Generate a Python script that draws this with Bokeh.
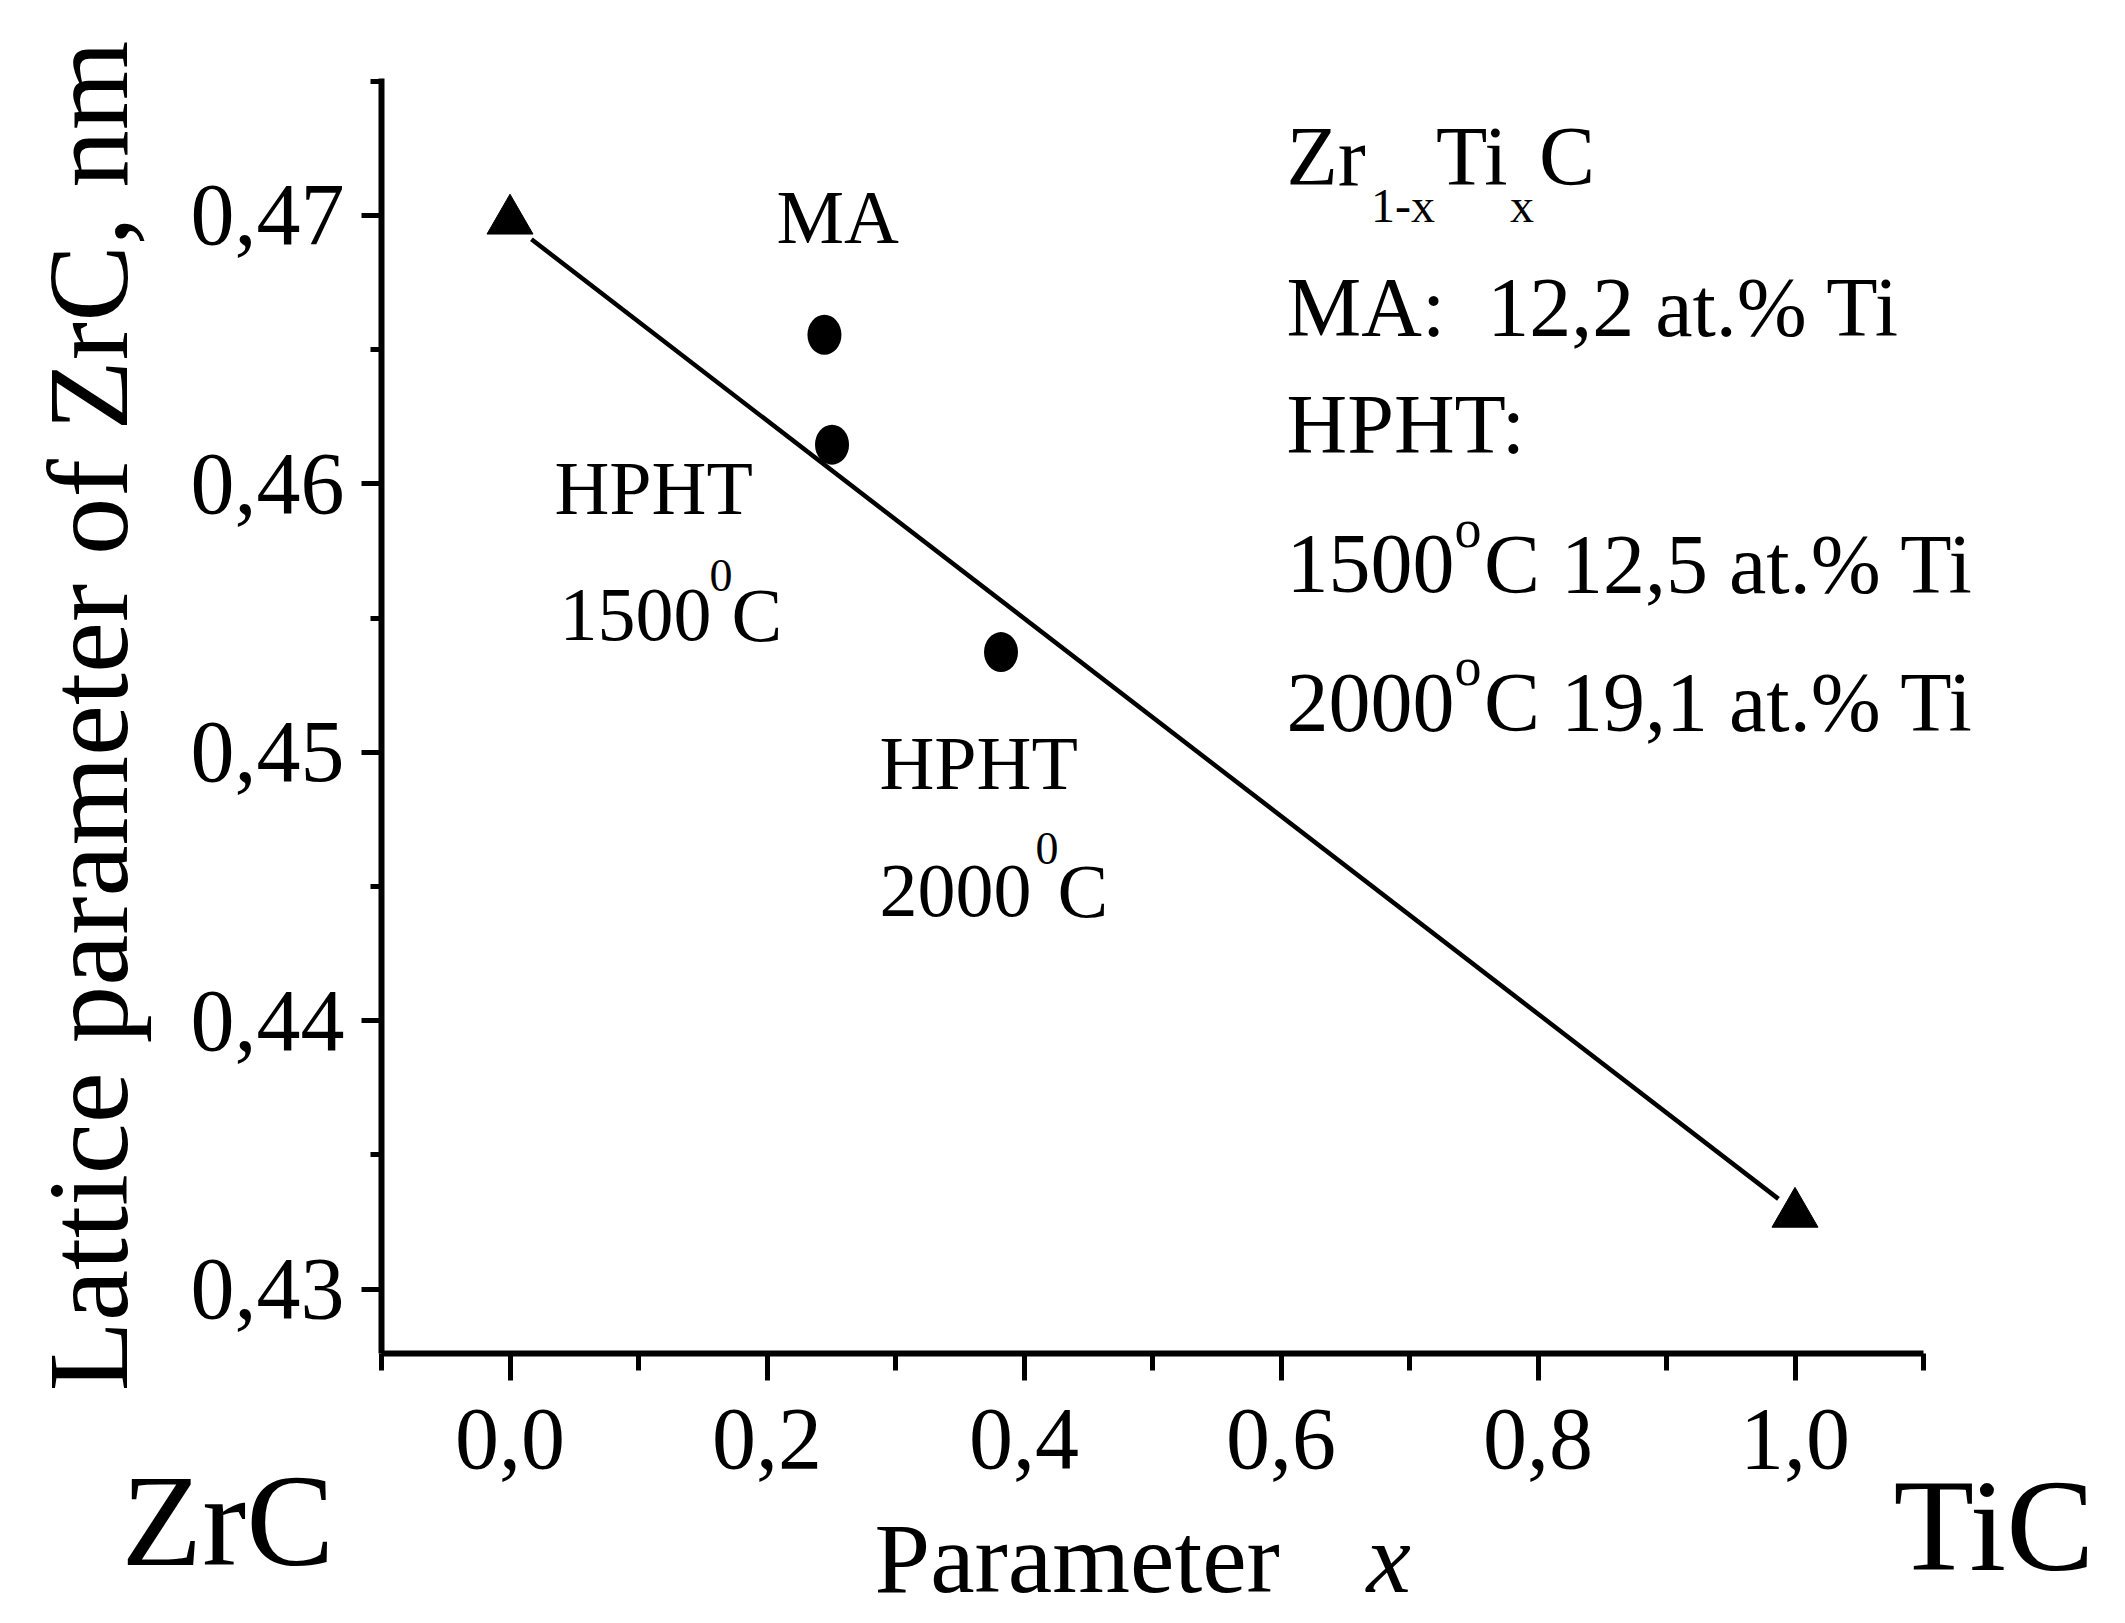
from bokeh.plotting import figure
from bokeh.models import Range1d, FixedTicker, CustomJSTickFormatter, Label, LinearAxis
from bokeh.embed import file_html
from bokeh.resources import INLINE

FONT = "Liberation Serif"

# ---- data ----
end_names = ["ZrC", "TiC"]
end_x = [0.0, 1.0]
end_y = [0.4698, 0.4328]

sample_names = ["MA", "HPHT 1500", "HPHT 2000"]
sample_x = [0.2447, 0.2506, 0.3821]
sample_y = [0.46555, 0.46146, 0.45373]

fit_x = [0.0167, 0.9871]
fit_y = [0.46911, 0.43336]

x_major = [0.0, 0.2, 0.4, 0.6, 0.8, 1.0]
x_minor = [-0.1, 0.1, 0.3, 0.5, 0.7, 0.9, 1.1]
y_major = [0.43, 0.44, 0.45, 0.46, 0.47]
y_minor = [0.435, 0.445, 0.455, 0.465, 0.475]
x_bounds = (-0.1, 1.1)
y_bounds = (0.4276, 0.4751)

W, H = 2117, 1615
p = figure(width=W, height=H, output_backend="svg", toolbar_location=None,
           x_range=Range1d(-0.39650, 1.25097), y_range=Range1d(0.417839, 0.478006),
           x_axis_location=None, y_axis_location=None,
           min_border=0, min_border_left=0, min_border_right=0,
           min_border_top=0, min_border_bottom=0)
p.outline_line_color = None
p.background_fill_color = "white"
p.border_fill_color = "white"
p.grid.visible = False

xaxis = LinearAxis(fixed_location=y_bounds[0], bounds=x_bounds,
                   ticker=FixedTicker(ticks=x_major, minor_ticks=x_minor),
                   formatter=CustomJSTickFormatter(code="return tick.toFixed(1).replace('.', ',')"))
yaxis = LinearAxis(fixed_location=x_bounds[0], bounds=y_bounds,
                   ticker=FixedTicker(ticks=y_major, minor_ticks=y_minor),
                   formatter=CustomJSTickFormatter(code="return tick.toFixed(2).replace('.', ',')"))

for ax in (xaxis, yaxis):
    ax.axis_line_width = 6
    ax.axis_line_color = "black"
    ax.major_tick_line_width = 5
    ax.minor_tick_line_width = 5
    ax.major_tick_line_color = "black"
    ax.minor_tick_line_color = "black"
    ax.major_tick_in = 0
    ax.minor_tick_in = 0
    ax.major_label_text_font = FONT
    ax.major_label_text_font_size = "88px"
    ax.major_label_text_color = "black"

xaxis.major_tick_out = 27
xaxis.minor_tick_out = 17
yaxis.major_tick_out = 20
yaxis.minor_tick_out = 11
xaxis.major_label_standoff = 30
yaxis.major_label_standoff = 17

yaxis.axis_label = "Lattice parameter of ZrC, nm"
yaxis.axis_label_text_font = FONT
yaxis.axis_label_text_font_size = "115px"
yaxis.axis_label_text_font_style = "normal"
yaxis.axis_label_text_color = "black"
yaxis.axis_label_standoff = 36

p.add_layout(xaxis, "below")
p.add_layout(yaxis, "left")

# fit line
p.line(fit_x, fit_y, line_color="black", line_width=4.5)
# end members
p.scatter(end_x, end_y, marker="triangle", size=46, fill_color="black", line_color="black")
# samples
p.ellipse(sample_x, sample_y, width=34, height=40, width_units="screen", height_units="screen",
          fill_color="black", line_color=None)

PX_PER_Y = 26842.0  # screen pixels per data unit along y (for baseline correction)


def lab(text, x, y, size, style="normal"):
    dy = 0.3 * size / PX_PER_Y
    p.add_layout(Label(x=x, y=y + dy, text=text, text_font=FONT, text_font_size=f"{size}px",
                       text_font_style=style, text_color="black",
                       text_align="left", text_baseline="alphabetic"))

# annotations near points
lab("MA", 0.2074, 0.469105, 76)
lab("HPHT", 0.0346, 0.459003, 76)
lab("1500", 0.0385, 0.454268, 76)
lab("0", 0.1553, 0.456058, 46)
lab("C", 0.1724, 0.454268, 76)
lab("HPHT", 0.2875, 0.448751, 76)
lab("2000", 0.2875, 0.443980, 76)
lab("0", 0.4090, 0.445881, 46)
lab("C", 0.4261, 0.443980, 76)

# right text block
lab("Zr", 0.6043, 0.471267, 84)
lab("1-x", 0.6700, 0.469850, 48)
lab("Ti", 0.7206, 0.471267, 84)
lab("x", 0.7783, 0.469850, 48)
lab("C", 0.8008, 0.471267, 84)
lab("MA:\u00a0 12,2 at.% Ti", 0.6043, 0.465638, 84)
lab("HPHT:", 0.6043, 0.461277, 84)
lab("1500", 0.6043, 0.456058, 84)
lab("o", 0.7350, 0.457698, 54)
lab("C 12,5 at.% Ti", 0.7580, 0.456058, 84)
lab("2000", 0.6043, 0.450914, 84)
lab("o", 0.7350, 0.452554, 54)
lab("C 19,1 at.% Ti", 0.7580, 0.450914, 84)

# end labels and x axis title
lab("ZrC", -0.3023, 0.41990, 132)
lab("TiC", 1.0767, 0.41970, 132)
lab("Parameter", 0.2837, 0.41885, 100)
lab("x", 0.6665, 0.41885, 100, "italic")

open("out.html", "w").write(file_html(p, INLINE))
